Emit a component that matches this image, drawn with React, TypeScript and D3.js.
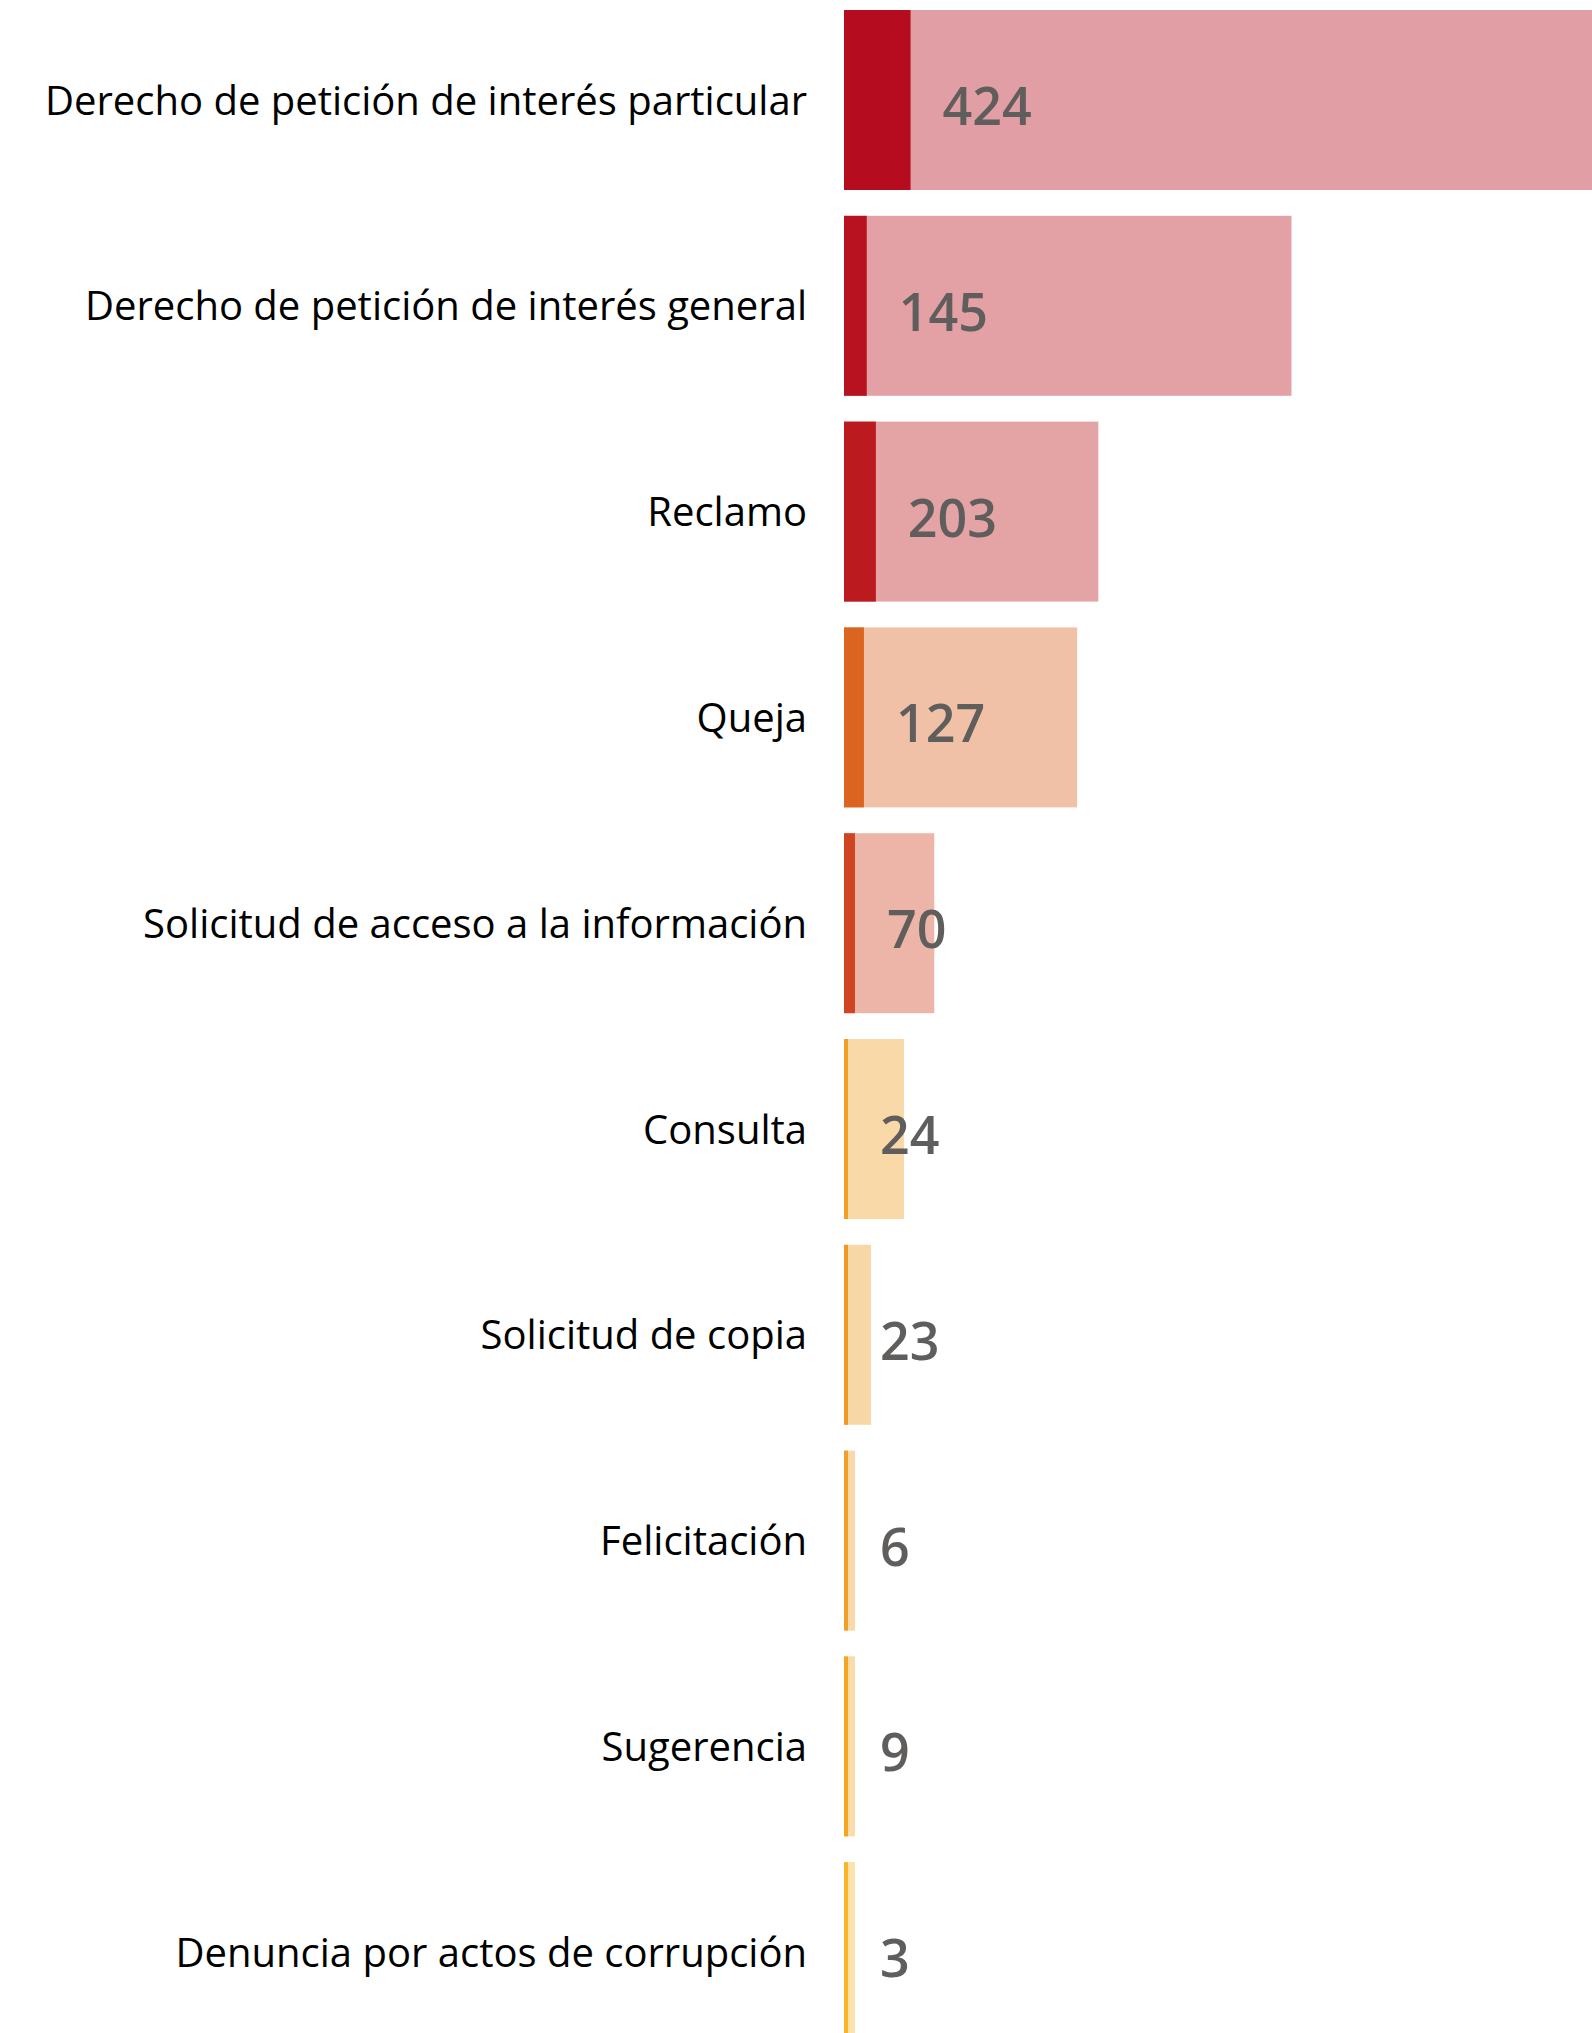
import React from "react";
import * as d3 from "d3";

const categories = [
  "Derecho de petición de interés particular",
  "Derecho de petición de interés general",
  "Reclamo",
  "Queja",
  "Solicitud de acceso a la información",
  "Consulta",
  "Solicitud de copia",
  "Felicitación",
  "Sugerencia",
  "Denuncia por actos de corrupción",
];

// value shown on the label (dark bar)
const counts = [424, 145, 203, 127, 70, 24, 23, 6, 9, 3];

// value behind the light bar (same unit as the axis)
const background = [5200, 2850, 1620, 1485, 575, 382, 172, 70, 70, 70];

const colors = [
  "#b50d1f",
  "#b8111f",
  "#bb1a1f",
  "#da6420",
  "#cf4522",
  "#f0a025",
  "#ee9a22",
  "#f0a027",
  "#f4a623",
  "#f8b426",
];

const width = 1592;
const height = 2033;
const margin = { left: 844, top: 10 };

export default function App() {
  const x = d3
    .scaleLinear()
    .domain([0, 5000])
    .range([margin.left, margin.left + 785]);

  const y = d3
    .scaleBand()
    .domain(categories)
    .range([margin.top - 12.9, margin.top - 12.9 + categories.length * 205.8])
    .paddingInner(0.1254)
    .paddingOuter(0.0627);

  const rows = categories.map((name, i) => ({
    name,
    count: counts[i],
    back: background[i],
    color: colors[i],
  }));

  return (
    <div style={{ position: "absolute", left: 0, top: 0 }}>
      <svg width={width} height={height} style={{ display: "block" }}>
        {rows.map((d) => {
          const y0 = y(d.name) as number;
          const cy = y0 + y.bandwidth() / 2;
          const darkEnd = Math.max(x(d.count), margin.left + 4);
          return (
            <g key={d.name}>
              <rect
                x={margin.left}
                y={y0}
                width={x(d.back) - margin.left}
                height={y.bandwidth()}
                fill={d.color}
                fillOpacity={0.4}
              />
              <rect
                x={margin.left}
                y={y0}
                width={darkEnd - margin.left}
                height={y.bandwidth()}
                fill={d.color}
              />
              <text
                x={807}
                y={cy + 14.5}
                textAnchor="end"
                fontFamily="'Open Sans', sans-serif"
                fontSize={40}
                fill="#000"
              >
                {d.name}
              </text>
              <text
                x={darkEnd + 32}
                y={cy + 25}
                fontFamily="'Open Sans', sans-serif"
                fontSize={52}
                fontWeight={600}
                fill="#605e5c"
              >
                {d.count}
              </text>
            </g>
          );
        })}
      </svg>
    </div>
  );
}
